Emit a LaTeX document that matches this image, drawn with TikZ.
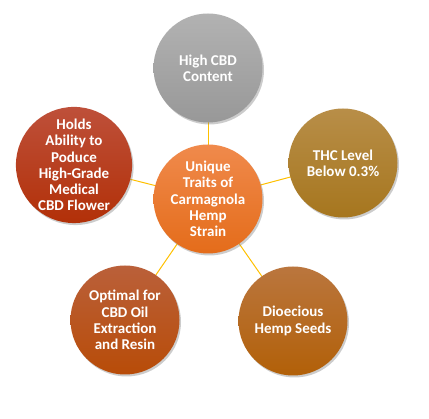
\documentclass[tikz,border=0pt]{standalone}
\usepackage{fontspec}
\setmainfont{Carlito}
\usetikzlibrary{shadows,backgrounds}
\definecolor{myLink}{HTML}{FFC000}
\tikzset{
myTrait/.style={
	circle, minimum size=109pt, inner sep=0pt,
	text=white, align=center, font=\fontsize{15}{16.2}\selectfont\bfseries,
	drop shadow={opacity=0.4, shadow xshift=1.5pt, shadow yshift=-2pt}
}
, myCore/.style={myTrait, top color={rgb,255:red,240;green,138;blue,76}, bottom color={rgb,255:red,228;green,108;blue,26}}
, myGray/.style={myTrait, top color={rgb,255:red,178;green,178;blue,178}, bottom color={rgb,255:red,152;green,152;blue,152}}
, myRed/.style={myTrait, top color={rgb,255:red,190;green,80;blue,58}, bottom color={rgb,255:red,178;green,48;blue,8}}
, myGold/.style={myTrait, top color={rgb,255:red,184;green,142;blue,72}, bottom color={rgb,255:red,166;green,118;blue,30}}
, myRust/.style={myTrait, top color={rgb,255:red,186;green,96;blue,58}, bottom color={rgb,255:red,184;green,76;blue,8}}
, myBrown/.style={myTrait, top color={rgb,255:red,186;green,118;blue,62}, bottom color={rgb,255:red,178;green,96;blue,8}}
% link
, myLink/.style={draw=myLink, line width=1pt}
}

\begin{document}
\begin{tikzpicture}[x=1pt,y=1pt]
	\useasboundingbox (0,0) rectangle (429,419);
	% nodes
	\node[myCore]  (Core)   at (208,220) {Unique\\Traits of\\Carmagnola\\Hemp\\Strain};
	\node[myGray]  (CBD)    at (208,351) {High CBD\\Content};
	\node[myGold]  (THC)    at (343,256) {THC Level\\Below 0.3\%};
	\node[myBrown] (Seeds)  at (293,98)  {Dioecious\\Hemp Seeds};
	\node[myRust]  (Oil)    at (125,99)  {Optimal for\\CBD Oil\\Extraction\\and Resin};
	\node[myRed]   (Flower) at (74,254)  {Holds\\Ability to\\Poduce\\High-Grade\\Medical\\CBD Flower};
	% links
	\begin{scope}[on background layer]
	\foreach \t in {CBD,THC,Seeds,Oil,Flower}
		\draw [myLink] (Core.center) -- (\t.center);
	\end{scope}
\end{tikzpicture}
\end{document}
